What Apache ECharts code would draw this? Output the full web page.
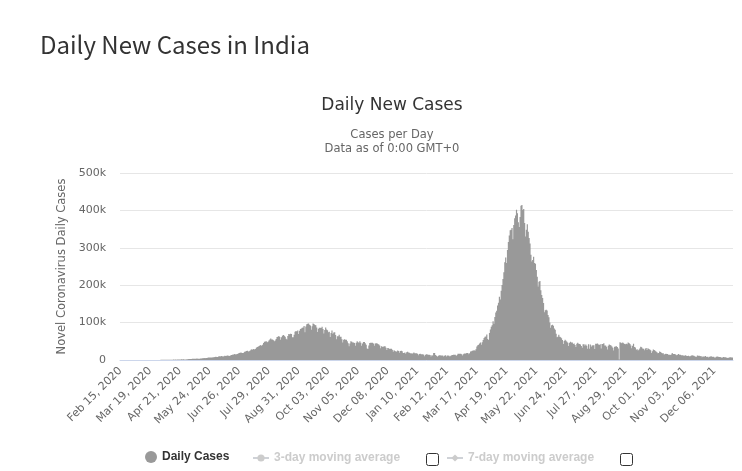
<!DOCTYPE html>
<html>
<head>
<meta charset="utf-8">
<script src="https://cdn.jsdelivr.net/npm/echarts@6/dist/echarts.min.js"></script>
<style>
html,body{margin:0;padding:0;background:#fff;}
#chart{width:742px;height:471px;}
</style>
</head>
<body>
<div id="chart"></div>
<script>
// Daily new cases (thousands), Feb 15 2020 .. Dec 26 2021
const startDate = [2020, 1, 15];
const feb2020 = [0,0,0,0,0,0,0,0,0,0,0,0,0,0,0];
const mar2020 = [0,0,0,0.02,0.001,0.001,0.003,0.005,0.01,0.02,0.01,0.01,0.01,0.02,0.02,0.01,0.03,0.03,0.05,0.08,0.07,0.1,0.1,0.08,0.09,0.1,0.15,0.15,0.1,0.2,0.4];
const apr2020 = [0.4,0.5,0.5,0.6,0.6,0.5,0.6,0.6,0.8,0.8,0.9,0.8,0.8,1.2,0.9,1.1,1.0,1.2,1.3,1.6,1.3,1.5,1.7,1.4,1.8,1.6,1.5,1.6,1.9,1.8];
const may2020 = [2.4,2.6,2.5,3.0,3.6,3.6,3.3,3.4,3.3,3.9,3.6,3.5,3.5,3.7,3.9,4.8,5.0,5.2,4.6,5.6,5.6,6.1,6.7,6.6,6.5,6.5,6.4,7.2,7.4,7.9,8.8];
const jun2020 = [7.7,8.2,9.3,9.9,9.5,10.4,9.9,9.2,10.0,11.1,10.9,11.5,12.0,11.5,10.7,11.1,13.1,13.6,14.7,14.8,15.9,14.8,15.6,16.0,17.3,18.6,19.4,20.0,18.4,18.7];
const jul2020 = [19.2,22.0,22.8,24.0,25.0,23.0,23.1,24.9,27.1,28.6,27.1,29.1,28.2,29.4,32.7,35.0,35.2,37.4,38.9,40.4,37.1,40.5,45.7,48.9,49.3,50.0,47.7,48.5,52.1,55.1,57.7];
const aug2020 = [55.0,54.7,52.9,50.0,52.0,56.3,61.5,62.2,64.4,61.5,54.0,60.9,64.6,66.9,64.7,62.1,57.1,55.0,64.5,69.7,68.9,69.9,69.2,60.9,60.9,67.2,75.8,77.3,76.5,78.8,69.2];
const sep2020 = [78.2,82.9,84.2,86.4,87.1,90.6,74.0,89.7,95.7,96.6,97.6,94.4,92.0,81.1,90.1,97.9,96.4,93.3,92.8,86.9,75.0,83.3,86.5,86.1,85.4,88.6,82.8,70.6,80.5,86.8];
const oct2020 = [81.5,79.5,74.4,75.8,61.3,72.0,78.8,70.5,73.3,74.0,66.7,55.3,63.5,63.5,67.7,62.2,61.9,55.7,46.8,54.0,55.8,54.4,54.4,50.1,45.1,36.5,43.9,49.9,48.6,46.9,46.9];
const nov2020 = [45.2,38.3,46.3,50.2,47.6,46.2,50.4,45.9,38.1,44.3,47.9,47.9,44.9,41.1,30.5,29.1,38.6,45.6,46.2,45.9,46.2,44.1,37.9,44.4,44.5,44.5,43.1,41.3,38.8,31.1];
const dec2020 = [36.6,35.7,35.5,36.6,36.7,32.9,26.6,32.1,31.5,29.4,30.0,30.3,27.1,22.1,26.4,24.0,22.9,22.9,25.1,24.3,19.6,23.9,24.7,23.1,18.7,18.8,20.0,16.4,20.5,21.8,20.0];
const jan2021 = [19.1,18.2,18.0,16.5,18.1,20.3,18.1,18.2,18.2,16.9,12.6,15.9,16.9,15.6,15.2,15.1,13.8,10.0,13.8,15.2,14.5,14.3,14.3,13.2,9.1,12.7,11.7,18.8,18.9,13.1,11.6];
const feb2021 = [8.6,11.0,12.9,12.4,11.7,12.1,11.8,9.1,11.1,12.9,9.3,12.2,12.2,11.6,9.1,11.6,12.9,13.2,13.9,13.9,14.3,10.6,13.7,16.7,16.7,16.5,16.8,15.5];
const mar2021 = [12.3,15.6,17.4,16.8,18.3,18.7,18.6,15.4,17.9,22.9,23.3,24.9,25.3,26.3,24.5,28.9,35.9,39.7,40.9,43.8,46.9,40.7,47.3,53.5,59.1,62.3,62.6,68.0,56.2,53.5,72.3];
const apr2021 = [81.5,89.1,93.2,103.6,96.6,115.3,126.8,131.9,145.4,152.9,168.9,161.7,185.3,200.7,216.9,234.7,261.5,273.8,259.2,294.3,315.8,332.7,346.8,348.4,352.9,323.0,360.9,379.3,386.5,402.0];
const may2021 = [392.6,368.1,355.8,382.3,412.6,414.2,401.1,403.7,366.5,329.9,348.4,362.7,343.1,326.1,311.2,281.4,263.5,267.3,276.1,259.6,257.3,240.8,222.3,196.4,208.9,211.3,186.4,173.8,165.6,152.7,127.5];
const jun2021 = [132.8,134.2,132.4,120.5,114.5,100.6,86.5,92.6,94.1,91.7,84.3,80.8,70.4,60.5,62.2,67.2,62.5,60.8,58.4,53.3,42.6,50.8,54.1,51.7,48.7,46.1,37.6,45.9,48.8,46.6];
const jul2021 = [46.6,43.1,44.1,39.8,34.7,43.7,45.9,43.4,42.8,41.5,37.2,32.9,41.8,41.8,38.1,41.2,38.1,30.1,42.0,30.1,41.4,35.3,39.1,39.7,39.4,29.7,43.7,43.5,44.2,41.6,40.0];
const aug2021 = [41.8,30.5,42.6,42.9,44.6,38.6,39.1,35.5,28.2,38.4,41.2,40.1,38.7,36.1,32.9,25.2,35.2,36.4,36.6,34.5,30.9,1.5,47.6,46.2,44.7,46.8,45.1,42.9,41.9,43.5,41.9];
const sep2021 = [47.1,45.4,42.8,38.9,31.2,37.9,43.3,34.9,33.4,27.3,28.6,25.4,27.2,30.6,35.7,34.4,30.8,30.3,26.1,30.3,31.9,26.9,31.4,29.6,28.3,26.0,18.8,23.5,28.2,26.7];
const oct2021 = [24.4,22.8,20.8,18.3,18.8,22.4,21.3,19.7,18.1,18.1,14.3,15.8,16.9,15.8,15.9,13.6,14.1,13.6,14.6,18.5,16.3,16.0,15.8,14.3,12.4,14.1,16.2,14.3,14.3,12.8,12.8];
const nov2021 = [12.5,10.4,11.9,12.7,10.9,10.9,11.5,10.1,10.1,11.5,12.5,11.9,11.3,10.3,8.9,8.9,11.9,11.1,11.1,10.3,10.5,7.6,9.3,9.3,9.1,10.5,8.3,8.8,6.9,8.9];
const dec2021 = [8.9,9.8,9.2,8.3,8.9,6.8,6.8,8.4,9.4,8.5,7.9,7.8,7.4,5.8,6.9,7.9,7.4,7.1,7.0,5.3,6.3,6.3,7.5,7.2,6.9,6.5];

const yTicks = [0, 100, 200, 300, 400, 500];
const seriesNames = ['Daily Cases', '3-day moving average', '7-day moving average'];

const dailyCases = [].concat(feb2020, mar2020, apr2020, may2020, jun2020, jul2020, aug2020, sep2020, oct2020, nov2020, dec2020,
  jan2021, feb2021, mar2021, apr2021, may2021, jun2021, jul2021, aug2021, sep2021, oct2021, nov2021, dec2021);

const monthNames = ['Jan','Feb','Mar','Apr','May','Jun','Jul','Aug','Sep','Oct','Nov','Dec'];
const categories = dailyCases.map((_, i) => {
  const d = new Date(Date.UTC(startDate[0], startDate[1], startDate[2] + i));
  const dd = String(d.getUTCDate()).padStart(2, '0');
  return monthNames[d.getUTCMonth()] + ' ' + dd + ', ' + d.getUTCFullYear();
});

const F = 'DejaVu Sans';
const chart = echarts.init(document.getElementById('chart'), null, {renderer: 'canvas'});
chart.setOption({
  animation: false,
  backgroundColor: '#fff',
  title: [
    {text: 'Daily New Cases in India', left: 40, top: 33, padding: 0,
     textStyle: {fontSize: 24, fontWeight: 'normal', color: '#333', fontFamily: 'Noto Sans CJK KR'}},
    {text: 'Daily New Cases', left: 392, textAlign: 'center', top: 97, padding: 0,
     textStyle: {fontSize: 17, fontWeight: 'normal', color: '#333', fontFamily: F}},
    {text: 'Cases per Day', left: 392, textAlign: 'center', top: 129, padding: 0,
     textStyle: {fontSize: 11.5, fontWeight: 'normal', color: '#666', fontFamily: F}},
    {text: 'Data as of 0:00 GMT+0', left: 392, textAlign: 'center', top: 143, padding: 0,
     textStyle: {fontSize: 11.5, fontWeight: 'normal', color: '#666', fontFamily: F}}
  ],
  legend: [
    {data: [seriesNames[0]], left: 145, top: 451, padding: 0, itemWidth: 12, itemHeight: 12, icon: 'circle',
     textStyle: {fontSize: 12, fontWeight: 'bold', color: '#333', fontFamily: 'Liberation Sans'}},
    {data: [seriesNames[1]], left: 252, top: 452, padding: 0, itemWidth: 16, itemHeight: 9,
     selected: {'3-day moving average': false}, inactiveColor: '#ccc', inactiveBorderColor: '#ccc',
     textStyle: {fontSize: 12, fontWeight: 'bold', color: '#333', fontFamily: 'Liberation Sans'}},
    {data: [seriesNames[2]], left: 446, top: 452, padding: 0, itemWidth: 16, itemHeight: 9,
     selected: {'7-day moving average': false}, inactiveColor: '#ccc', inactiveBorderColor: '#ccc',
     textStyle: {fontSize: 12, fontWeight: 'bold', color: '#333', fontFamily: 'Liberation Sans'}}
  ],
  graphic: [
    {type: 'rect', shape: {x: 426.5, y: 453.5, width: 12, height: 12, r: 2}, style: {fill: '#fff', stroke: '#333', lineWidth: 1}},
    {type: 'rect', shape: {x: 620.5, y: 453.5, width: 12, height: 12, r: 2}, style: {fill: '#fff', stroke: '#333', lineWidth: 1}}
  ],
  grid: {left: 120, right: 9, top: 173, bottom: 111},
  xAxis: {
    type: 'category',
    data: categories,
    boundaryGap: true,
    axisLine: {lineStyle: {color: '#ccd6eb'}},
    axisTick: {show: false},
    axisLabel: {interval: 32, rotate: 45, fontSize: 11, color: '#666', fontFamily: F, margin: 9}
  },
  yAxis: {
    type: 'value',
    min: 0, max: 500, interval: 100,
    name: 'Novel Coronavirus Daily Cases',
    nameLocation: 'middle', nameGap: 52, nameRotate: 90,
    nameTextStyle: {fontSize: 11.5, color: '#666', fontFamily: F},
    axisLine: {show: false},
    axisTick: {show: false},
    splitLine: {lineStyle: {color: '#e6e6e6'}},
    axisLabel: {fontSize: 11, color: '#666', fontFamily: F, margin: 14,
      formatter: v => (yTicks.indexOf(v) >= 0 ? (v === 0 ? '0' : v + 'k') : '')}
  },
  series: [
    {name: seriesNames[0], type: 'bar', data: dailyCases, barWidth: 1.2, large: true, largeThreshold: 100,
     itemStyle: {color: '#999999'}},
    {name: seriesNames[1], type: 'line', data: [], symbol: 'circle', symbolSize: 6,
     itemStyle: {color: '#aaaaaa'}, lineStyle: {color: '#aaaaaa'}},
    {name: seriesNames[2], type: 'line', data: [], symbol: 'diamond', symbolSize: 7,
     itemStyle: {color: '#aaaaaa'}, lineStyle: {color: '#aaaaaa'}}
  ]
});
</script>
</body>
</html>
